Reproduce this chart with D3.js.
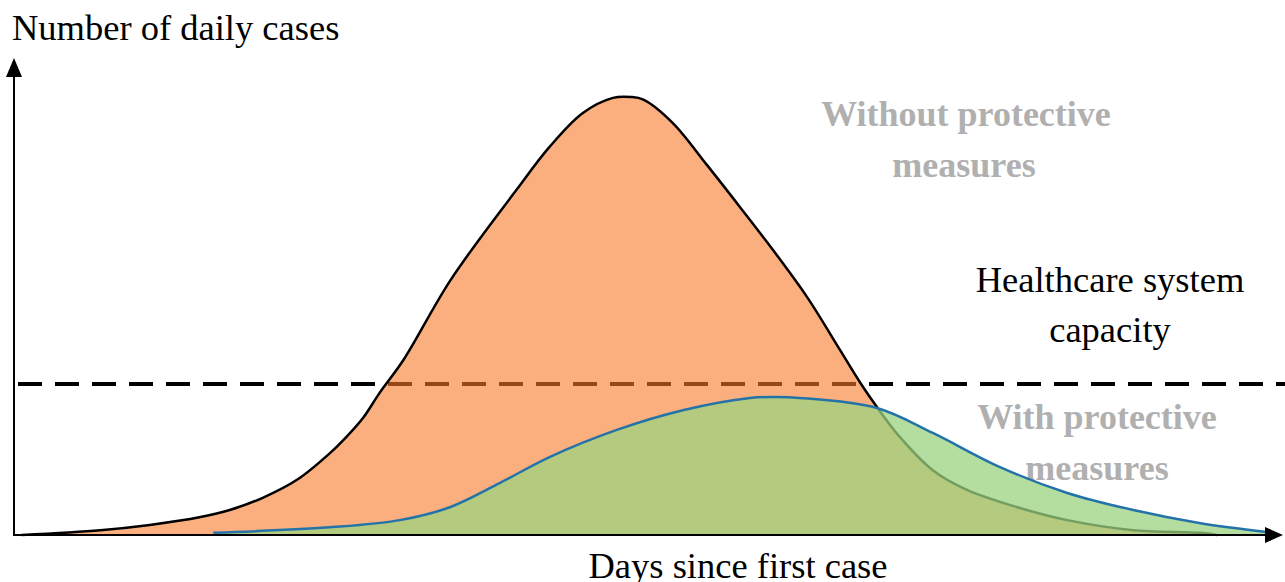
<!DOCTYPE html>
<html>
<head>
<meta charset="utf-8">
<script src="https://cdn.jsdelivr.net/npm/d3@7"></script>
<style>
  body { margin: 0; background: #fff; }
  text { font-family: "Liberation Serif", "Times New Roman", serif; }
</style>
</head>
<body>
<div id="chart"></div>
<script>
// SVG size
var svgWidth = 1285;
var svgHeight = 582;

// Without protective measures (day, daily cases, peak = 100)
var noMeasuresDays  = [0.6, 6.8, 10.7, 14.7, 17.0, 19.6, 22.3, 24.9, 26.2, 27.5, 28.8, 30.7, 34.4, 39.6, 42.2, 44.8, 47.2, 48.6, 49.6, 51.9, 54.6, 57.2, 59.8, 62.5, 65.1, 66.7, 68.0, 69.8, 72.4, 75.1, 79.0, 83.0, 88.2, 93.5, 94.8];
var noMeasuresCases = [0, 1.1, 2.3, 4.1, 5.7, 8.5, 12.6, 18.7, 22.4, 26.7, 32.4, 40.0, 58.2, 78.8, 88.6, 96.3, 99.8, 100, 99.4, 94.1, 84.5, 74.9, 65.1, 54.3, 42.2, 34.7, 29.2, 22.4, 14.8, 10.3, 6.4, 3.4, 1.1, 0.5, 0];

// With protective measures
var measuresDays  = [15.7, 25.1, 30.4, 34.4, 38.3, 42.2, 47.5, 52.7, 58.0, 60.0, 61.9, 68.0, 72.4, 77.7, 83.0, 88.2, 93.5, 98.7];
var measuresCases = [0.5, 1.8, 3.4, 6.4, 11.9, 17.8, 24.0, 28.5, 31.3, 31.5, 31.3, 29.0, 23.3, 15.5, 9.6, 5.7, 2.7, 0.7];

// Healthcare system capacity
var capacity = 34.5;

var xMax = 100;   // end of x axis (arrow tip)
var yMax = 108.9; // end of y axis (arrow tip)

var svg = d3.select("#chart")
  .append("svg")
  .attr("width", svgWidth)
  .attr("height", svgHeight);

// scales
var xScale = d3.scaleLinear().domain([0, xMax]).range([14, 1283]);
var yScale = d3.scaleLinear().domain([0, 100]).range([535, 97]);

var noMeasures = noMeasuresDays.map((d, i) => ({day: d, cases: noMeasuresCases[i]}));
var measures = measuresDays.map((d, i) => ({day: d, cases: measuresCases[i]}));

var curve = d3.curveCatmullRom.alpha(0.5);

var area = d3.area()
  .x(d => xScale(d.day))
  .y0(yScale(0))
  .y1(d => yScale(Math.max(0, d.cases)))
  .curve(curve);

var line = d3.line()
  .x(d => xScale(d.day))
  .y(d => yScale(d.cases))
  .curve(curve);

// capacity line (under the curves)
svg.append("line")
  .attr("x1", xScale(0))
  .attr("x2", svgWidth)
  .attr("y1", yScale(capacity))
  .attr("y2", yScale(capacity))
  .attr("stroke", "#000")
  .attr("stroke-width", 4)
  .attr("stroke-dasharray", "24,13")
  .attr("stroke-dashoffset", -4);

// labels
svg.append("text")
  .attr("x", 12)
  .attr("y", 40)
  .attr("font-size", 36.5)
  .attr("fill", "#000")
  .text("Number of daily cases");

svg.append("text")
  .attr("x", 738)
  .attr("y", 578)
  .attr("text-anchor", "middle")
  .attr("font-size", 36.5)
  .attr("fill", "#000")
  .text("Days since first case");

var capLabel = svg.append("text")
  .attr("text-anchor", "middle")
  .attr("font-size", 36.5)
  .attr("fill", "#000");
capLabel.append("tspan").attr("x", 1110).attr("y", 292).text("Healthcare system");
capLabel.append("tspan").attr("x", 1110).attr("y", 342).text("capacity");

var noLabel = svg.append("text")
  .attr("text-anchor", "middle")
  .attr("font-size", 36)
  .attr("font-weight", "bold")
  .attr("fill", "#b0b0b0");
noLabel.append("tspan").attr("x", 966).attr("y", 126).text("Without protective");
noLabel.append("tspan").attr("x", 964).attr("y", 177).text("measures");

var withLabel = svg.append("text")
  .attr("text-anchor", "middle")
  .attr("font-size", 36)
  .attr("font-weight", "bold")
  .attr("fill", "#b0b0b0");
withLabel.append("tspan").attr("x", 1097).attr("y", 429).text("With protective");
withLabel.append("tspan").attr("x", 1097).attr("y", 480).text("measures");

// without measures curve
svg.append("path")
  .datum(noMeasures)
  .attr("d", area)
  .attr("fill", "rgb(250,122,40)")
  .attr("fill-opacity", 0.6);

svg.append("path")
  .datum(noMeasures)
  .attr("d", line)
  .attr("fill", "none")
  .attr("stroke", "#000")
  .attr("stroke-width", 2.5);

// with measures curve
svg.append("path")
  .datum(measures)
  .attr("d", area)
  .attr("fill", "rgb(155,211,128)")
  .attr("fill-opacity", 0.75);

svg.append("path")
  .datum(measures)
  .attr("d", line)
  .attr("fill", "none")
  .attr("stroke", "#2473a8")
  .attr("stroke-width", 2.5);

// axes with arrows
var x0 = xScale(0), y0 = yScale(0);
var xEnd = xScale(xMax), yEnd = yScale(yMax);

svg.append("line")
  .attr("x1", x0).attr("y1", y0)
  .attr("x2", x0).attr("y2", yEnd + 14)
  .attr("stroke", "#000").attr("stroke-width", 2);

svg.append("line")
  .attr("x1", x0 - 1).attr("y1", y0)
  .attr("x2", xEnd - 14).attr("y2", y0)
  .attr("stroke", "#000").attr("stroke-width", 2);

svg.append("path")
  .attr("d", `M${x0},${yEnd} L${x0 - 8},${yEnd + 19} L${x0 + 8},${yEnd + 19} Z`)
  .attr("fill", "#000");

svg.append("path")
  .attr("d", `M${xEnd},${y0} L${xEnd - 18},${y0 - 8} L${xEnd - 18},${y0 + 8} Z`)
  .attr("fill", "#000");
</script>
</body>
</html>
